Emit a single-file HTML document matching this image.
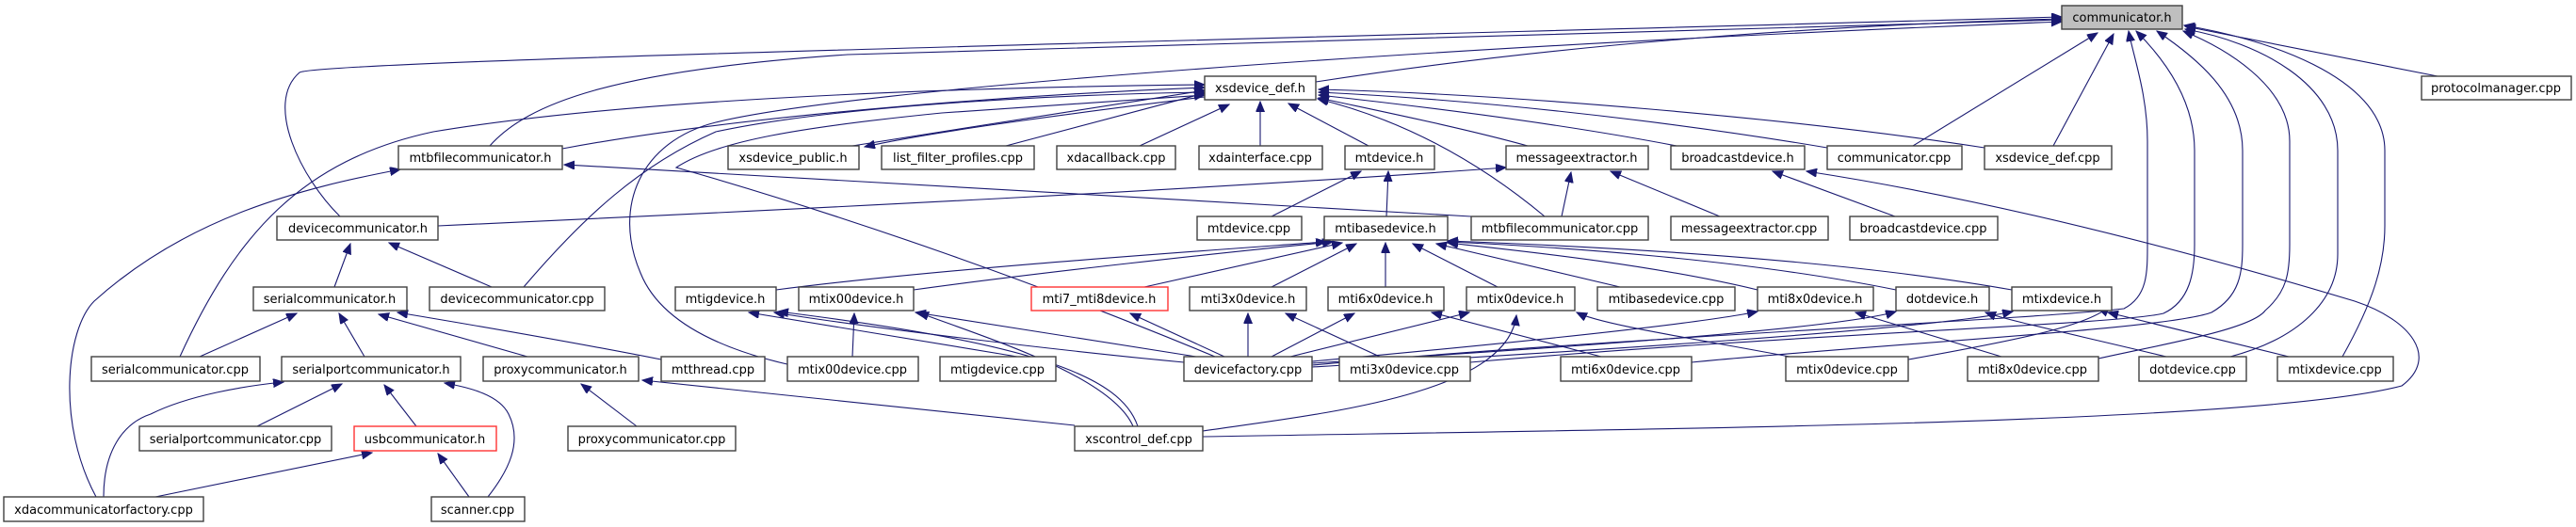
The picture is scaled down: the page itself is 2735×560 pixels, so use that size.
<!DOCTYPE html>
<html><head><meta charset="utf-8"><style>
html,body{margin:0;padding:0;background:#fff;}
svg{display:block;}
text{font-family:"DejaVu Sans","Liberation Sans",sans-serif;font-size:13px;fill:#000;text-anchor:middle;}
.n{fill:#fff;stroke:#404040;stroke-width:1.4;}
.r{fill:#fff;stroke:#ff3333;stroke-width:1.4;}
.e{fill:none;stroke:#191970;stroke-width:1.1;marker-end:url(#a);}
</style></head><body>
<svg width="2735" height="560" viewBox="0 0 2735 560" xmlns="http://www.w3.org/2000/svg">
<defs><marker id="a" markerUnits="userSpaceOnUse" markerWidth="12" markerHeight="10" refX="11" refY="4.5" orient="auto"><path d="M0,0 L11,4.5 L0,9 z" fill="#191970" stroke="#191970"/></marker></defs>
<g>
<!-- to communicator.h -->
<path class="e" d="M1397,87 C1700,40 2000,25 2189,20"/>
<path class="e" d="M361,230 C320,190 280,110 318,77 C340,65 1200,45 2189,18"/>
<path class="e" d="M520,155 C560,110 650,75 900,58 L2189,21"/>
<path class="e" d="M840,388 C760,370 700,340 680,290 C650,220 680,150 760,130 C900,95 1500,50 2189,23"/>
<path class="e" d="M1393,388 C1700,360 2150,340 2255,328 C2280,315 2280,290 2280,260 L2280,150 C2280,100 2265,60 2260,33"/>
<path class="e" d="M1561,385 C1900,355 2250,345 2297,333 C2325,320 2330,290 2330,260 L2330,160 C2330,100 2290,55 2268,33"/>
<path class="e" d="M1796,385 C2000,365 2300,350 2348,332 C2378,315 2381,290 2381,260 L2381,160 C2381,100 2330,60 2290,33"/>
<path class="e" d="M2228,381 C2300,365 2390,350 2405,330 C2428,310 2431,290 2431,260 L2431,150 C2431,90 2360,50 2318,33"/>
<path class="e" d="M2368,379 C2440,360 2482,320 2482,270 L2482,160 C2482,90 2400,45 2320,31"/>
<path class="e" d="M2487,379 C2520,320 2532,280 2532,240 L2532,160 C2532,80 2400,40 2319,27"/>
<path class="e" d="M2026,382 C2150,360 2220,345 2240,325"/>
<path class="e" d="M2031,155 L2227,35"/>
<path class="e" d="M2180,155 L2244,36"/>
<path class="e" d="M2588,81 L2320,28"/>
<!-- to xsdevice_def.h -->
<path class="e" d="M905,155 L1279,96"/>
<path class="e" d="M1068,155 L1279,99"/>
<path class="e" d="M1279,103 C1100,125 980,142 918,156"/>
<path class="e" d="M1210,155 L1305,111"/>
<path class="e" d="M1338,155 L1338,108"/>
<path class="e" d="M1453,155 L1368,110"/>
<path class="e" d="M1622,155 C1550,135 1450,115 1400,104"/>
<path class="e" d="M1780,155 C1650,130 1500,112 1400,101"/>
<path class="e" d="M1940,157 C1750,125 1550,105 1400,98"/>
<path class="e" d="M2107,157 C1900,125 1600,100 1400,95"/>
<path class="e" d="M1640,230 C1580,180 1500,130 1399,105"/>
<path class="e" d="M597,158 C800,120 1100,100 1279,93"/>
<path class="e" d="M556,305 C620,230 680,175 760,140 C900,110 1150,100 1279,98"/>
<path class="e" d="M191,379 C250,250 320,170 460,140 C700,100 1100,92 1279,90"/>
<path class="e" d="M1290,379 C1100,300 900,230 718,178 C760,150 850,135 1000,120 L1279,101"/>
<!-- misc -->
<path class="e" d="M1141,452 L682,404"/>
<path class="e" d="M1203,453 C1180,400 1050,360 975,332"/>
<path class="e" d="M1208,453 C1190,400 1100,365 826,331"/>
<path class="e" d="M1277,458 C1400,440 1600,420 1610,335"/>
<path class="e" d="M1277,464 C1800,455 2400,450 2550,410 C2590,380 2560,340 2500,320 C2300,260 2100,210 1918,182"/>
<path class="e" d="M1562,230 C1200,210 900,190 599,175"/>
<path class="e" d="M465,240 C900,220 1300,200 1599,178"/>
<path class="e" d="M1658,230 L1668,183"/>
<path class="e" d="M1826,230 L1710,182"/>
<path class="e" d="M2012,230 L1882,182"/>
<path class="e" d="M1350,230 L1445,182"/>
<path class="e" d="M1472,230 L1474,182"/>
<path class="e" d="M522,305 L413,258"/>
<path class="e" d="M355,305 L372,259"/>
<path class="e" d="M702,382 C600,362 500,345 422,332"/>
<path class="e" d="M560,379 L402,334"/>
<path class="e" d="M212,379 L315,333"/>
<path class="e" d="M387,379 L360,333"/>
<path class="e" d="M273,453 L363,408"/>
<path class="e" d="M442,453 L408,409"/>
<path class="e" d="M518,528 C540,500 555,470 540,440 C530,420 500,412 472,407"/>
<path class="e" d="M110,528 C110,480 130,450 160,440 C200,420 260,410 301,406"/>
<path class="e" d="M165,528 L395,481"/>
<path class="e" d="M498,528 L465,482"/>
<path class="e" d="M676,453 L617,408"/>
<path class="e" d="M102,528 C60,450 70,350 100,320 C200,230 320,200 425,180"/>
<!-- to mtibasedevice.h -->
<path class="e" d="M824,308 C1000,285 1300,265 1408,257"/>
<path class="e" d="M970,308 C1100,290 1300,268 1415,257"/>
<path class="e" d="M1215,305 L1425,258"/>
<path class="e" d="M1350,305 L1440,259"/>
<path class="e" d="M1471,305 L1471,258"/>
<path class="e" d="M1590,305 L1500,259"/>
<path class="e" d="M1720,305 L1525,259"/>
<path class="e" d="M1866,308 C1750,280 1600,265 1537,258"/>
<path class="e" d="M2013,308 C1850,275 1650,262 1537,257"/>
<path class="e" d="M2136,308 C1950,275 1700,262 1537,256"/>
<!-- devicefactory and cpp to device headers -->
<path class="e" d="M1257,385 C1100,370 900,345 822,332"/>
<path class="e" d="M1270,379 C1150,360 1050,345 972,332"/>
<path class="e" d="M1300,379 L1200,333"/>
<path class="e" d="M1325,379 L1325,333"/>
<path class="e" d="M1350,379 L1438,333"/>
<path class="e" d="M1370,379 L1560,332"/>
<path class="e" d="M1393,384 C1600,365 1800,345 1866,331"/>
<path class="e" d="M1393,386 C1650,370 1950,350 2013,331"/>
<path class="e" d="M1393,390 C1700,372 2050,350 2137,331"/>
<path class="e" d="M1080,379 L795,332"/>
<path class="e" d="M905,379 L907,333"/>
<path class="e" d="M1465,379 L1365,333"/>
<path class="e" d="M1700,379 L1520,332"/>
<path class="e" d="M1900,379 C1800,360 1700,345 1674,332"/>
<path class="e" d="M2125,379 L1970,332"/>
<path class="e" d="M2300,379 C2200,355 2130,340 2108,332"/>
<path class="e" d="M2430,379 L2238,332"/>
</g>
<g>
<rect x="2189" y="6" width="128" height="25" fill="#bfbfbf" stroke="#404040" stroke-width="1.4"/><text x="2253" y="23">communicator.h</text>
<rect class="n" x="1279" y="81" width="118" height="25"/><text x="1338" y="98">xsdevice_def.h</text>
<rect class="n" x="2571" y="81" width="159" height="25"/><text x="2650" y="98">protocolmanager.cpp</text>

<rect class="n" x="423" y="155" width="174" height="25"/><text x="510" y="172">mtbfilecommunicator.h</text>
<rect class="n" x="773" y="155" width="139" height="25"/><text x="842" y="172">xsdevice_public.h</text>
<rect class="n" x="936" y="155" width="162" height="25"/><text x="1017" y="172">list_filter_profiles.cpp</text>
<rect class="n" x="1122" y="155" width="126" height="25"/><text x="1185" y="172">xdacallback.cpp</text>
<rect class="n" x="1273" y="155" width="131" height="25"/><text x="1338" y="172">xdainterface.cpp</text>
<rect class="n" x="1428" y="155" width="95" height="25"/><text x="1475" y="172">mtdevice.h</text>
<rect class="n" x="1599" y="155" width="151" height="25"/><text x="1674" y="172">messageextractor.h</text>
<rect class="n" x="1774" y="155" width="142" height="25"/><text x="1845" y="172">broadcastdevice.h</text>
<rect class="n" x="1940" y="155" width="143" height="25"/><text x="2011" y="172">communicator.cpp</text>
<rect class="n" x="2107" y="155" width="135" height="25"/><text x="2174" y="172">xsdevice_def.cpp</text>

<rect class="n" x="294" y="230" width="171" height="25"/><text x="380" y="247">devicecommunicator.h</text>
<rect class="n" x="1271" y="230" width="111" height="25"/><text x="1326" y="247">mtdevice.cpp</text>
<rect class="n" x="1406" y="230" width="131" height="25"/><text x="1471" y="247">mtibasedevice.h</text>
<rect class="n" x="1562" y="230" width="188" height="25"/><text x="1656" y="247">mtbfilecommunicator.cpp</text>
<rect class="n" x="1774" y="230" width="167" height="25"/><text x="1857" y="247">messageextractor.cpp</text>
<rect class="n" x="1964" y="230" width="157" height="25"/><text x="2042" y="247">broadcastdevice.cpp</text>

<rect class="n" x="269" y="305" width="163" height="25"/><text x="350" y="322">serialcommunicator.h</text>
<rect class="n" x="456" y="305" width="186" height="25"/><text x="549" y="322">devicecommunicator.cpp</text>
<rect class="n" x="717" y="305" width="107" height="25"/><text x="770" y="322">mtigdevice.h</text>
<rect class="n" x="848" y="305" width="122" height="25"/><text x="909" y="322">mtix00device.h</text>
<rect class="r" x="1095" y="305" width="145" height="25"/><text x="1167" y="322">mti7_mti8device.h</text>
<rect class="n" x="1263" y="305" width="124" height="25"/><text x="1325" y="322">mti3x0device.h</text>
<rect class="n" x="1410" y="305" width="123" height="25"/><text x="1471" y="322">mti6x0device.h</text>
<rect class="n" x="1557" y="305" width="115" height="25"/><text x="1614" y="322">mtix0device.h</text>
<rect class="n" x="1696" y="305" width="146" height="25"/><text x="1769" y="322">mtibasedevice.cpp</text>
<rect class="n" x="1866" y="305" width="123" height="25"/><text x="1927" y="322">mti8x0device.h</text>
<rect class="n" x="2013" y="305" width="99" height="25"/><text x="2062" y="322">dotdevice.h</text>
<rect class="n" x="2136" y="305" width="106" height="25"/><text x="2189" y="322">mtixdevice.h</text>

<rect class="n" x="97" y="379" width="179" height="26"/><text x="186" y="397">serialcommunicator.cpp</text>
<rect class="n" x="299" y="379" width="190" height="26"/><text x="394" y="397">serialportcommunicator.h</text>
<rect class="n" x="513" y="379" width="165" height="26"/><text x="595" y="397">proxycommunicator.h</text>
<rect class="n" x="702" y="379" width="110" height="26"/><text x="757" y="397">mtthread.cpp</text>
<rect class="n" x="836" y="379" width="139" height="26"/><text x="905" y="397">mtix00device.cpp</text>
<rect class="n" x="998" y="379" width="123" height="26"/><text x="1059" y="397">mtigdevice.cpp</text>
<rect class="n" x="1257" y="379" width="136" height="26"/><text x="1325" y="397">devicefactory.cpp</text>
<rect class="n" x="1422" y="379" width="139" height="26"/><text x="1491" y="397">mti3x0device.cpp</text>
<rect class="n" x="1657" y="379" width="139" height="26"/><text x="1726" y="397">mti6x0device.cpp</text>
<rect class="n" x="1896" y="379" width="130" height="26"/><text x="1961" y="397">mtix0device.cpp</text>
<rect class="n" x="2089" y="379" width="139" height="26"/><text x="2158" y="397">mti8x0device.cpp</text>
<rect class="n" x="2271" y="379" width="114" height="26"/><text x="2328" y="397">dotdevice.cpp</text>
<rect class="n" x="2418" y="379" width="123" height="26"/><text x="2479" y="397">mtixdevice.cpp</text>

<rect class="n" x="148" y="453" width="204" height="26"/><text x="250" y="471">serialportcommunicator.cpp</text>
<rect class="r" x="376" y="453" width="151" height="26"/><text x="451" y="471">usbcommunicator.h</text>
<rect class="n" x="603" y="453" width="178" height="26"/><text x="692" y="471">proxycommunicator.cpp</text>
<rect class="n" x="1141" y="453" width="136" height="26"/><text x="1209" y="471">xscontrol_def.cpp</text>

<rect class="n" x="4" y="528" width="212" height="26"/><text x="110" y="546">xdacommunicatorfactory.cpp</text>
<rect class="n" x="458" y="528" width="99" height="26"/><text x="507" y="546">scanner.cpp</text>
</g>
</svg>
</body></html>
